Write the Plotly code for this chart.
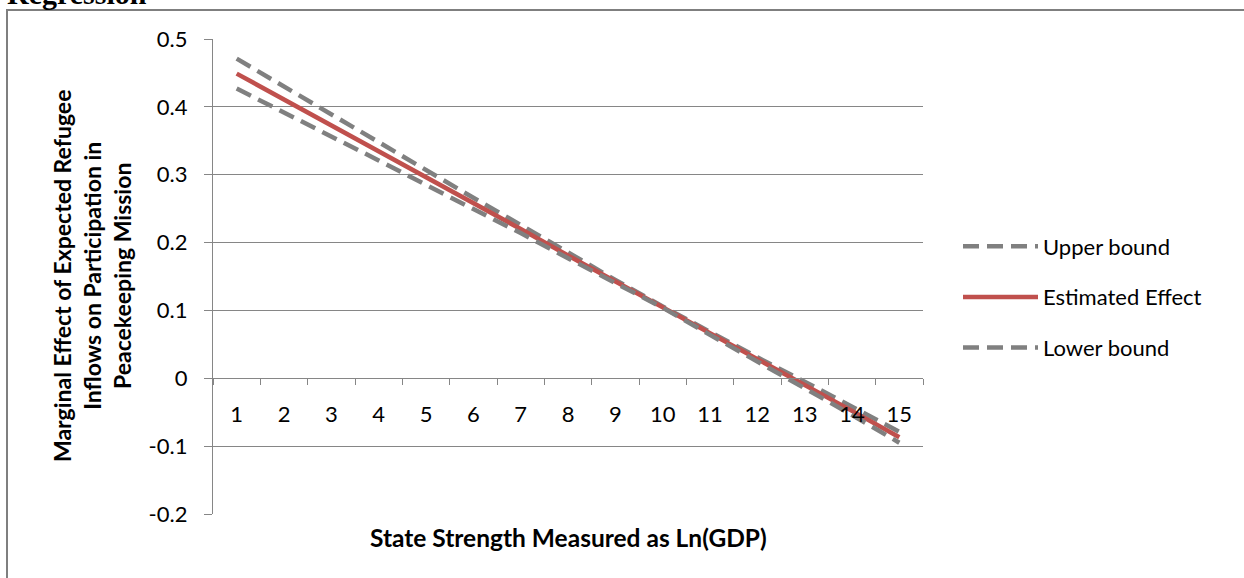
import plotly.graph_objects as go

categories = [str(i) for i in range(1, 16)]
upper_bound = [0.471, 0.430, 0.389, 0.347, 0.307, 0.266, 0.226, 0.185, 0.145, 0.106, 0.068, 0.031, -0.005, -0.042, -0.079]
estimated = [0.449, 0.411, 0.373, 0.334, 0.296, 0.258, 0.220, 0.181, 0.143, 0.105, 0.066, 0.028, -0.010, -0.048, -0.087]
lower_bound = [0.427, 0.392, 0.357, 0.321, 0.285, 0.250, 0.214, 0.177, 0.141, 0.104, 0.064, 0.025, -0.015, -0.054, -0.095]
y_ticks = [0.5, 0.4, 0.3, 0.2, 0.1, 0, -0.1, -0.2]
y_tick_text = ["0.5", "0.4", "0.3", "0.2", "0.1", "0", "-0.1", "-0.2"]

FONT = "Lato"
GRAY = "#868686"
DASH = "16px,8px"
fig = go.Figure()
fig.add_trace(go.Scatter(x=categories, y=upper_bound, mode="lines", name="Upper bound",
                         legendgroup="a", line=dict(color="#808080", width=4.5, dash=DASH)))
fig.add_trace(go.Scatter(x=categories, y=estimated, mode="lines", name="Estimated Effect",
                         legendgroup="b", line=dict(color="#C0504D", width=4.5)))
fig.add_trace(go.Scatter(x=categories, y=lower_bound, mode="lines", name="Lower bound",
                         legendgroup="c", line=dict(color="#808080", width=4.5, dash=DASH)))

W, H = 1244, 578
L, R, T, B = 213, 321, 39, 64
pw, ph = W - L - R, H - T - B

def px(x):
    return (x - L) / pw

def py(y):
    return (H - B - y) / ph

fig.update_layout(
    width=W, height=H,
    margin=dict(l=L, r=R, t=T, b=B),
    paper_bgcolor="white", plot_bgcolor="white",
    font=dict(family=FONT, size=22, color="black"),
    showlegend=True,
    legend=dict(x=px(958), y=py(297), xanchor="left", yanchor="middle",
                traceorder="grouped", tracegroupgap=19,
                font=dict(family=FONT, size=22, color="black"), itemwidth=75),
    xaxis=dict(type="category", anchor="free", position=2 / 7,
               range=[-0.5, 14.5], showgrid=False, showline=True, linecolor=GRAY, linewidth=1.3,
               ticks="outside", ticklen=6, tickcolor=GRAY, tickwidth=1.3, tickson="boundaries",
               ticklabelstandoff=16, tickfont=dict(family=FONT, size=22)),
    yaxis=dict(range=[-0.2, 0.5], tickvals=y_ticks, ticktext=y_tick_text,
               showgrid=True, gridcolor=GRAY, gridwidth=1.3, zeroline=False,
               showline=True, linecolor=GRAY, linewidth=1.3,
               ticks="outside", ticklen=8, tickcolor=GRAY, tickwidth=1.3,
               ticklabelstandoff=12, tickfont=dict(family=FONT, size=22)),
)

# outer frame of the chart box
fig.add_shape(type="rect", xref="paper", yref="paper",
              x0=px(7), x1=px(1260), y0=py(10), y1=py(600),
              line=dict(color="#7f7f7f", width=2), fillcolor="rgba(0,0,0,0)", layer="below")

fig.add_annotation(text="<b>State Strength Measured as Ln(GDP)</b>", xref="paper", yref="paper",
                   x=0.5, y=py(537), xanchor="center", yanchor="middle", showarrow=False,
                   font=dict(family=FONT, size=24.5))
fig.add_annotation(text="<b>Marginal Effect of Expected Refugee<br>Inflows on Participation in<br>Peacekeeping Mission</b>",
                   xref="paper", yref="paper", x=px(92), y=py(276), xanchor="center", yanchor="middle",
                   textangle=-90, showarrow=False, font=dict(family=FONT, size=23))
fig.add_annotation(text="<b>Regression</b>", xref="paper", yref="paper",
                   x=px(5), y=py(12), xanchor="left", yanchor="bottom", showarrow=False,
                   font=dict(family="Liberation Serif", size=30))

fig.write_html("out.html")
